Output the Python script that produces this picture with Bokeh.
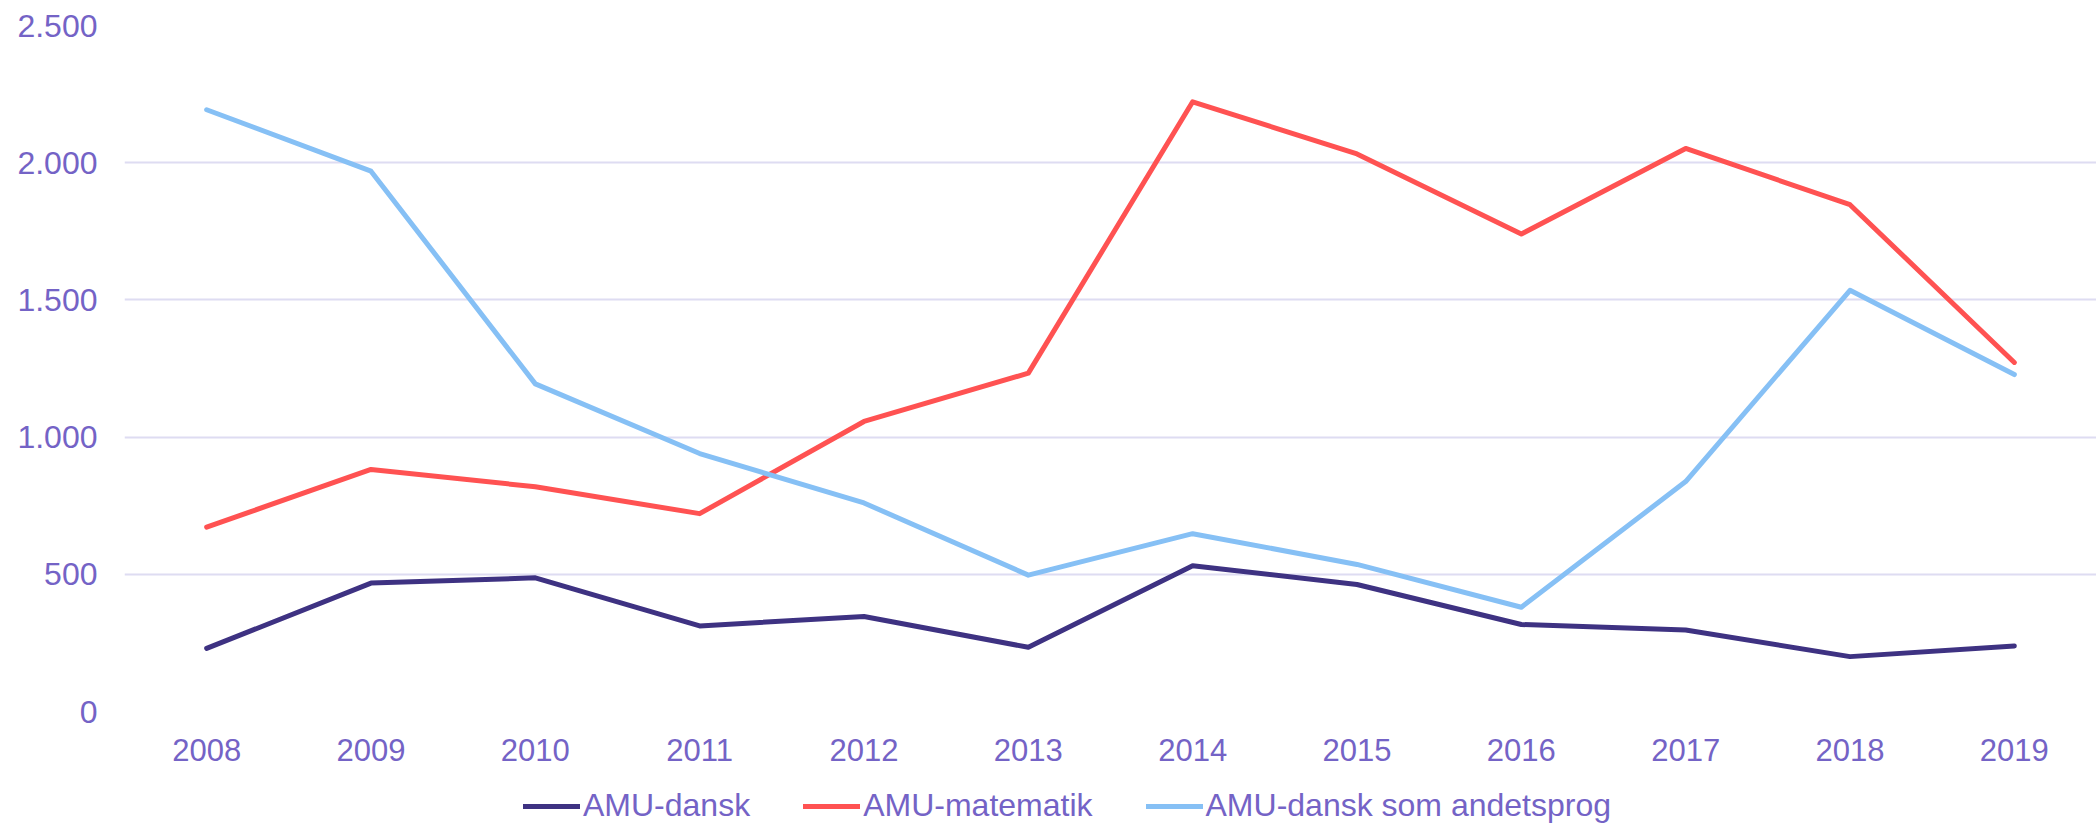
from bokeh.plotting import figure
from bokeh.layouts import column
from bokeh.models import Legend, LegendItem, FixedTicker, Range1d
from bokeh.embed import file_html
from bokeh.resources import INLINE

years = ["2008", "2009", "2010", "2011", "2012", "2013",
         "2014", "2015", "2016", "2017", "2018", "2019"]
amu_dansk = [230, 468, 487, 312, 346, 234, 531, 463, 317, 297, 200, 239]
amu_matematik = [672, 882, 819, 721, 1057, 1233, 2222, 2032, 1740, 2052, 1847, 1272]
amu_dansk_andetsprog = [2193, 1969, 1194, 940, 760, 497, 648, 536, 380, 838, 1535, 1228]
series_names = ["AMU-dansk", "AMU-matematik", "AMU-dansk som andetsprog"]
y_ticks = [0, 500, 1000, 1500, 2000, 2500]
y_tick_labels = ["0", "500", "1.000", "1.500", "2.000", "2.500"]

TEXT = "#7463C6"
FONT = "Liberation Sans"
colors = ["#3E3282", "#FF5252", "#86C0F5"]
LW = 5

p = figure(frame_width=1972, frame_height=686, x_range=years, y_range=Range1d(0, 2500),
           output_backend="svg", toolbar_location=None,
           min_border_left=124, min_border_right=0, min_border_top=25, min_border_bottom=60)
p.outline_line_color = None
p.background_fill_color = "white"

for vals, c in zip([amu_dansk, amu_matematik, amu_dansk_andetsprog], colors):
    p.line(x=years, y=vals, line_color=c, line_width=LW,
           line_join="round", line_cap="round")

p.xgrid.grid_line_color = None
p.ygrid.grid_line_color = "#DEDCF2"
p.ygrid.grid_line_width = 2

for ax in (p.xaxis[0], p.yaxis[0]):
    ax.axis_line_color = None
    ax.major_tick_line_color = None
    ax.minor_tick_line_color = None
    ax.major_tick_out = 0
    ax.major_tick_in = 0
    ax.minor_tick_out = 0
    ax.axis_label_standoff = 0
    ax.major_label_text_color = TEXT
    ax.major_label_text_font = FONT
    ax.major_label_text_font_size = "32px"

p.xaxis[0].major_label_text_font_size = "31px"
p.yaxis[0].ticker = FixedTicker(ticks=y_ticks)
p.yaxis[0].major_label_overrides = {t: l for t, l in zip(y_ticks, y_tick_labels)}
p.yaxis[0].major_label_standoff = 27
p.xaxis[0].major_label_standoff = 27

# legend strip below the chart (its frame is aligned with the chart frame)
lg = figure(width=2096, height=54, x_range=Range1d(0, 1), y_range=Range1d(0, 1),
            output_backend="svg", toolbar_location=None,
            x_axis_location=None, y_axis_location=None,
            min_border_left=0, min_border_right=0, min_border_top=0, min_border_bottom=0)
lg.outline_line_color = None
lg.xgrid.grid_line_color = None
lg.ygrid.grid_line_color = None
nan = float("nan")
keys = [lg.line(x=[0], y=[nan], line_color=c, line_width=LW, line_cap="round") for c in colors]

legend = Legend(items=[LegendItem(label=n, renderers=[r]) for n, r in zip(series_names, keys)],
                orientation="horizontal", location=(399, 1),
                label_text_font=FONT, label_text_font_size="32px", label_text_color=TEXT,
                glyph_width=57, glyph_height=20, label_standoff=3, spacing=53,
                border_line_alpha=0, background_fill_alpha=0, padding=0, margin=0)
lg.add_layout(legend)

layout = column(p, lg, spacing=0)
open("out.html", "w").write(file_html(layout, INLINE))
